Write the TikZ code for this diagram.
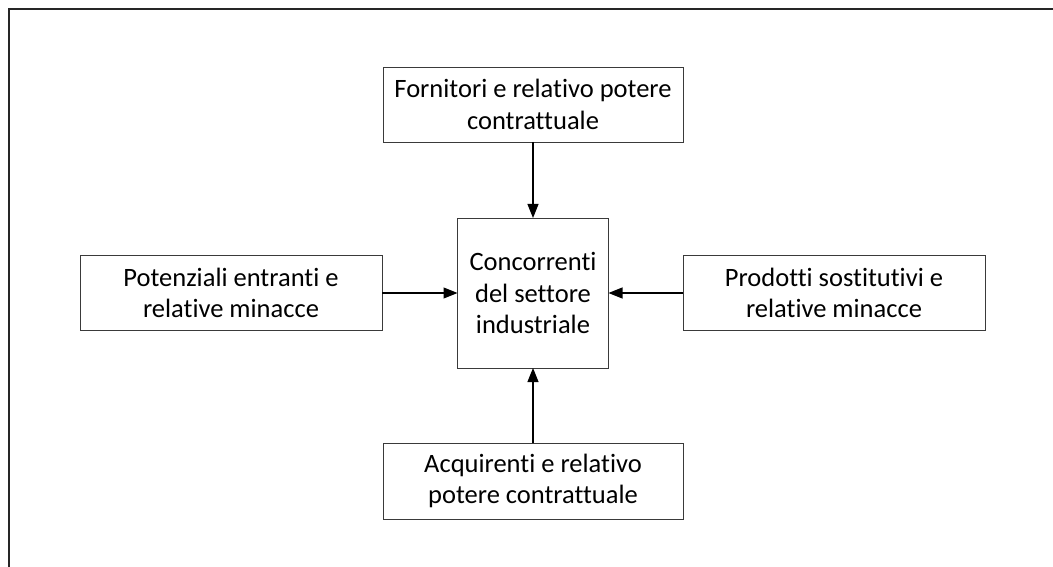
\documentclass[tikz,border=0pt]{standalone}
\usepackage{fontspec}
\setmainfont{Carlito}[Ligatures=NoCommon]
\usepackage{tikz}
\usetikzlibrary{arrows.meta}
\definecolor{frameK}{HTML}{262626}
\definecolor{boxK}{HTML}{3A3A3A}

\begin{document}
\begin{tikzpicture}[x=1pt, y=-1pt,
    font=\fontsize{26.5}{31.5}\selectfont,
    forcebox/.style={draw=boxK, line width=0.9pt, align=center, inner sep=0pt,
      outer sep=0pt, minimum width=300pt, minimum height=75pt},
    forcearrow/.style={-{Triangle[length=14pt, width=11pt]}, line width=1.1pt}]
  \path[use as bounding box] (0,0) rectangle (1053,567);

  % partial outer frame (top and left edges only)
  \draw[frameK, line width=2.6pt] (9,567) -- (9,9) -- (1053,9);

  \node[forcebox] (forn) at (533,104.5) {Fornitori e relativo potere\\contrattuale};
  \node[forcebox, minimum width=151pt, minimum height=150pt] (conc) at (533,293)
    {Concorrenti\\del settore\\industriale};
  \node[forcebox, minimum width=302pt] (entr) at (231,293)
    {Potenziali entranti e\\relative minacce};
  \node[forcebox, minimum width=302pt] (sost) at (834,293)
    {Prodotti sostitutivi e\\relative minacce};
  \node[forcebox, minimum height=76pt] (acq) at (533,481)
    {Acquirenti e relativo\\potere contrattuale};

  \draw[forcearrow] (forn.south) -- (conc.north);
  \draw[forcearrow] (entr.east) -- (conc.west);
  \draw[forcearrow] (sost.west) -- (conc.east);
  \draw[forcearrow] (acq.north) -- (conc.south);
\end{tikzpicture}
\end{document}
